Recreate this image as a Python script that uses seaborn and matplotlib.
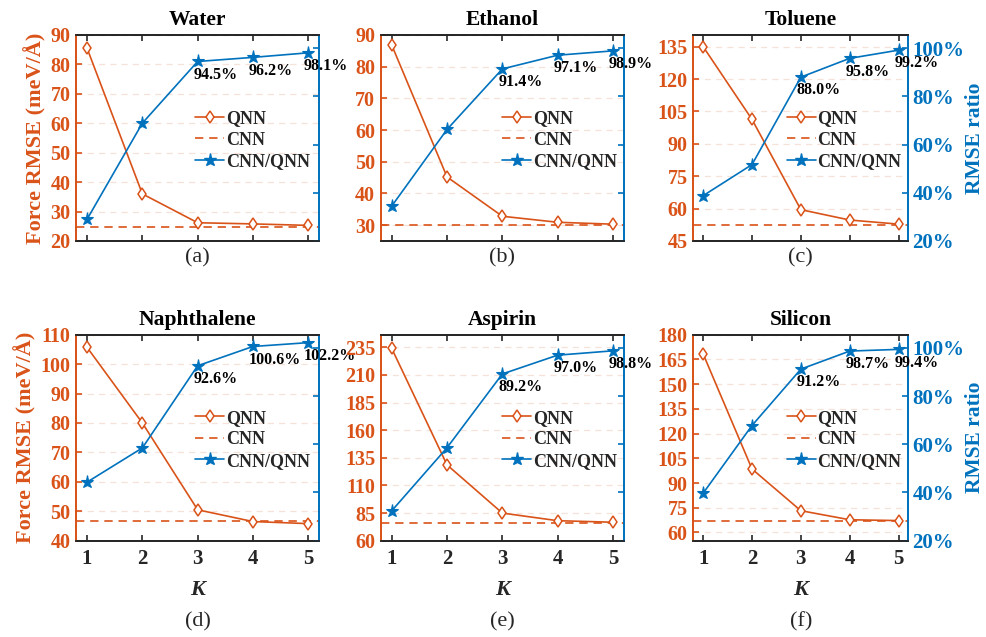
import matplotlib
matplotlib.use("Agg")
import matplotlib.pyplot as plt
import seaborn as sns
from matplotlib.lines import Line2D
from matplotlib.ticker import FuncFormatter

# ---------------- data ----------------
K = [1, 2, 3, 4, 5]
titles = ["Water", "Ethanol", "Toluene", "Naphthalene", "Aspirin", "Silicon"]
panel_labels = ["(a)", "(b)", "(c)", "(d)", "(e)", "(f)"]

qnn_water = [85.5, 36.0, 26.2, 25.8, 25.3]
qnn_ethanol = [86.8, 45.2, 32.8, 30.9, 30.3]
qnn_toluene = [135.0, 101.3, 59.5, 54.7, 52.8]
qnn_naphthalene = [105.7, 80.0, 50.5, 46.5, 45.8]
qnn_aspirin = [234.0, 128.6, 85.0, 78.1, 76.7]
qnn_silicon = [168.3, 98.5, 73.2, 67.7, 67.2]

cnn_values = [24.8, 30.0, 52.4, 46.8, 75.8, 66.8]

ratio_water = [29.0, 68.9, 94.5, 96.2, 98.1]
ratio_ethanol = [34.5, 66.3, 91.4, 97.1, 98.9]
ratio_toluene = [38.8, 51.7, 88.0, 95.8, 99.2]
ratio_naphthalene = [44.3, 58.5, 92.6, 100.6, 102.2]
ratio_aspirin = [32.4, 58.6, 89.2, 97.0, 98.8]
ratio_silicon = [39.7, 67.8, 91.2, 98.7, 99.4]

qnn_all = [qnn_water, qnn_ethanol, qnn_toluene, qnn_naphthalene, qnn_aspirin, qnn_silicon]
ratio_all = [ratio_water, ratio_ethanol, ratio_toluene, ratio_naphthalene, ratio_aspirin, ratio_silicon]

left_ticks = [
    [20, 30, 40, 50, 60, 70, 80, 90],
    [30, 40, 50, 60, 70, 80, 90],
    [45, 60, 75, 90, 105, 120, 135],
    [40, 50, 60, 70, 80, 90, 100, 110],
    [60, 85, 110, 135, 160, 185, 210, 235],
    [60, 75, 90, 105, 120, 135, 150, 165, 180],
]
left_ylims = [(20, 90), (25, 90), (45, 140.4), (40, 110), (60, 246.5), (55, 180)]
ratio_ticks = [20, 40, 60, 80, 100]
series_names = ["QNN", "CNN", "CNN/QNN"]

# ---------------- style ----------------
sns.set_theme(style="ticks")
plt.rcParams["font.family"] = ["Liberation Serif", "DejaVu Serif"]
plt.rcParams["font.weight"] = "bold"
plt.rcParams["axes.titleweight"] = "bold"
plt.rcParams["axes.labelweight"] = "bold"

ORANGE = "#D95319"
BLUE = "#0072BD"
DARK = "#262626"
GRID = "#f7e2d9"

fig = plt.figure(figsize=(9.87, 6.37), dpi=100)

col_left = [0.0770, 0.3857, 0.7025]
col_width = [0.2465, 0.2465, 0.2178]
row_bottom = [0.6217, 0.1512]
row_height = 0.3234
legend_x = [0.49, 0.50, 0.435]
label_y = [0.595, 0.024]

for i in range(6):
    r, c = divmod(i, 3)
    ax = fig.add_axes([col_left[c], row_bottom[r], col_width[c], row_height])
    ax2 = ax.twinx()

    # left axis series
    sns.lineplot(x=K, y=qnn_all[i], ax=ax, color=ORANGE, linewidth=1.2,
                 marker="d", markersize=6.5, markerfacecolor="white",
                 markeredgecolor=ORANGE, markeredgewidth=1.1, zorder=3)
    ax.axhline(cnn_values[i], color=ORANGE, linewidth=1.2,
               linestyle=(0, (5, 3.5)), zorder=2)

    # right axis series
    sns.lineplot(x=K, y=ratio_all[i], ax=ax2, color=BLUE, linewidth=1.2,
                 marker="*", markersize=9.5, markerfacecolor=BLUE,
                 markeredgecolor=BLUE, markeredgewidth=0.8, zorder=3)
    for k, v in zip(K[2:], ratio_all[i][2:]):
        ax2.annotate(f"{v:.1f}%", xy=(k, v), xytext=(-3, -9.5),
                     textcoords="offset points", ha="left", va="center",
                     fontsize=11.5, fontweight="bold", color="black",
                     annotation_clip=False, zorder=5)

    ax.set_xlim(0.8, 5.2)
    ax.set_xticks(K)
    ax.set_ylim(*left_ylims[i])
    ax.set_yticks(left_ticks[i])
    ax2.set_ylim(20, 105.5)
    ax2.set_yticks(ratio_ticks)
    ax2.yaxis.set_major_formatter(FuncFormatter(lambda v, p: f"{v:.0f}%"))

    ax.grid(axis="y", linestyle=(0, (5, 4)), color=GRID, linewidth=0.9)
    ax.grid(axis="x", visible=False)
    ax2.grid(False)
    ax.set_xlabel("")
    ax.set_ylabel("")
    ax2.set_ylabel("")

    # spines
    for a in (ax, ax2):
        a.spines["left"].set_color(ORANGE)
        a.spines["right"].set_color(BLUE)
        a.spines["top"].set_color(DARK)
        a.spines["bottom"].set_color(DARK)
        for s in a.spines.values():
            s.set_linewidth(1.3)
            s.set_visible(True)

    ax.tick_params(axis="x", direction="in", top=True, bottom=True, length=4,
                   width=1.2, color=DARK, labelcolor=DARK, labelsize=15,
                   labelbottom=(r == 1), pad=6)
    ax.tick_params(axis="y", direction="in", left=True, right=False, length=4,
                   width=1.2, color=ORANGE, labelcolor=ORANGE, labelsize=14.5, pad=4)
    ax2.tick_params(axis="y", direction="in", right=True, left=False, length=4,
                    width=1.2, color=BLUE, labelcolor=BLUE, labelsize=15,
                    labelright=(c == 2), pad=3)

    ax.set_title(titles[i], fontsize=15.5, fontweight="bold", color="black", pad=7)

    if c == 0:
        ax.set_ylabel("Force RMSE (meV/Å)", color=ORANGE, fontsize=16,
                      fontweight="bold", labelpad=3)
    if c == 2:
        ax2.set_ylabel("RMSE ratio", color=BLUE, fontsize=15.5,
                       fontweight="bold", labelpad=0)
    if r == 1:
        ax.set_xlabel("K", fontsize=16, fontweight="bold", style="italic",
                      color=DARK, labelpad=8)

    handles = [
        Line2D([], [], color=ORANGE, linewidth=1.2, marker="d", markersize=6.5,
               markerfacecolor="white", markeredgecolor=ORANGE, markeredgewidth=1.1),
        Line2D([], [], color=ORANGE, linewidth=1.2, linestyle=(0, (5, 3.5))),
        Line2D([], [], color=BLUE, linewidth=1.2, marker="*", markersize=9.5,
               markerfacecolor=BLUE, markeredgecolor=BLUE),
    ]
    leg = ax2.legend(handles, series_names, loc="center left",
                     bbox_to_anchor=(legend_x[c], 0.49), frameon=False,
                     fontsize=13, handlelength=1.6, handletextpad=0.1,
                     labelspacing=0.25, borderaxespad=0, borderpad=0)
    for t in leg.get_texts():
        t.set_fontweight("bold")

    fig.text(col_left[c] + col_width[c] / 2, label_y[r], panel_labels[i],
             ha="center", va="center", fontsize=16, fontweight="normal",
             color=DARK)

fig.savefig("out.png", dpi=100)
